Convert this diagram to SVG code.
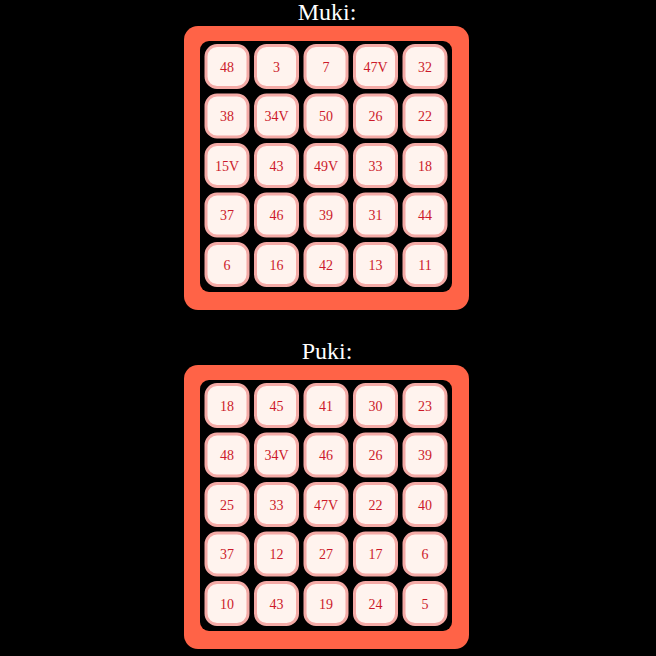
<svg xmlns="http://www.w3.org/2000/svg" width="656" height="656" viewBox="0 0 656 656">
<style>
.bg{fill:#000}
.title{font-family:"Liberation Serif",serif;font-size:24px;fill:#fff;text-anchor:middle}
.outer{fill:#ff6347}
.inner{fill:#000}
.cell text{font-family:"Liberation Serif",serif;font-size:14px;fill:#cc1a2a;text-anchor:middle;dominant-baseline:central}
</style>
<defs>
<rect id="c" x="2" y="1.5" width="42" height="42" rx="11" fill="#fff3ee" stroke="#f4aaa6" stroke-width="3"/>
</defs>
<rect class="bg" x="0" y="0" width="656" height="656"/>
<g id="muki">
<text class="title" x="327" y="20">Muki:</text>
<rect class="outer" x="184" y="26" width="285" height="284" rx="14"/>
<rect class="inner" x="200" y="41" width="252" height="251" rx="9"/>
<g class="cell" transform="translate(204,44)"><use href="#c"/><text x="23" y="23">48</text></g>
<g class="cell" transform="translate(253.5,44)"><use href="#c"/><text x="23" y="23">3</text></g>
<g class="cell" transform="translate(303,44)"><use href="#c"/><text x="23" y="23">7</text></g>
<g class="cell" transform="translate(352.5,44)"><use href="#c"/><text x="23" y="23">47V</text></g>
<g class="cell" transform="translate(402,44)"><use href="#c"/><text x="23" y="23">32</text></g>
<g class="cell" transform="translate(204,93.5)"><use href="#c"/><text x="23" y="23">38</text></g>
<g class="cell" transform="translate(253.5,93.5)"><use href="#c"/><text x="23" y="23">34V</text></g>
<g class="cell" transform="translate(303,93.5)"><use href="#c"/><text x="23" y="23">50</text></g>
<g class="cell" transform="translate(352.5,93.5)"><use href="#c"/><text x="23" y="23">26</text></g>
<g class="cell" transform="translate(402,93.5)"><use href="#c"/><text x="23" y="23">22</text></g>
<g class="cell" transform="translate(204,143)"><use href="#c"/><text x="23" y="23">15V</text></g>
<g class="cell" transform="translate(253.5,143)"><use href="#c"/><text x="23" y="23">43</text></g>
<g class="cell" transform="translate(303,143)"><use href="#c"/><text x="23" y="23">49V</text></g>
<g class="cell" transform="translate(352.5,143)"><use href="#c"/><text x="23" y="23">33</text></g>
<g class="cell" transform="translate(402,143)"><use href="#c"/><text x="23" y="23">18</text></g>
<g class="cell" transform="translate(204,192.5)"><use href="#c"/><text x="23" y="23">37</text></g>
<g class="cell" transform="translate(253.5,192.5)"><use href="#c"/><text x="23" y="23">46</text></g>
<g class="cell" transform="translate(303,192.5)"><use href="#c"/><text x="23" y="23">39</text></g>
<g class="cell" transform="translate(352.5,192.5)"><use href="#c"/><text x="23" y="23">31</text></g>
<g class="cell" transform="translate(402,192.5)"><use href="#c"/><text x="23" y="23">44</text></g>
<g class="cell" transform="translate(204,242)"><use href="#c"/><text x="23" y="23">6</text></g>
<g class="cell" transform="translate(253.5,242)"><use href="#c"/><text x="23" y="23">16</text></g>
<g class="cell" transform="translate(303,242)"><use href="#c"/><text x="23" y="23">42</text></g>
<g class="cell" transform="translate(352.5,242)"><use href="#c"/><text x="23" y="23">13</text></g>
<g class="cell" transform="translate(402,242)"><use href="#c"/><text x="23" y="23">11</text></g>
</g>
<g id="puki">
<text class="title" x="327" y="359">Puki:</text>
<rect class="outer" x="184" y="365" width="285" height="284" rx="14"/>
<rect class="inner" x="200" y="380" width="252" height="251" rx="9"/>
<g class="cell" transform="translate(204,383)"><use href="#c"/><text x="23" y="23">18</text></g>
<g class="cell" transform="translate(253.5,383)"><use href="#c"/><text x="23" y="23">45</text></g>
<g class="cell" transform="translate(303,383)"><use href="#c"/><text x="23" y="23">41</text></g>
<g class="cell" transform="translate(352.5,383)"><use href="#c"/><text x="23" y="23">30</text></g>
<g class="cell" transform="translate(402,383)"><use href="#c"/><text x="23" y="23">23</text></g>
<g class="cell" transform="translate(204,432.5)"><use href="#c"/><text x="23" y="23">48</text></g>
<g class="cell" transform="translate(253.5,432.5)"><use href="#c"/><text x="23" y="23">34V</text></g>
<g class="cell" transform="translate(303,432.5)"><use href="#c"/><text x="23" y="23">46</text></g>
<g class="cell" transform="translate(352.5,432.5)"><use href="#c"/><text x="23" y="23">26</text></g>
<g class="cell" transform="translate(402,432.5)"><use href="#c"/><text x="23" y="23">39</text></g>
<g class="cell" transform="translate(204,482)"><use href="#c"/><text x="23" y="23">25</text></g>
<g class="cell" transform="translate(253.5,482)"><use href="#c"/><text x="23" y="23">33</text></g>
<g class="cell" transform="translate(303,482)"><use href="#c"/><text x="23" y="23">47V</text></g>
<g class="cell" transform="translate(352.5,482)"><use href="#c"/><text x="23" y="23">22</text></g>
<g class="cell" transform="translate(402,482)"><use href="#c"/><text x="23" y="23">40</text></g>
<g class="cell" transform="translate(204,531.5)"><use href="#c"/><text x="23" y="23">37</text></g>
<g class="cell" transform="translate(253.5,531.5)"><use href="#c"/><text x="23" y="23">12</text></g>
<g class="cell" transform="translate(303,531.5)"><use href="#c"/><text x="23" y="23">27</text></g>
<g class="cell" transform="translate(352.5,531.5)"><use href="#c"/><text x="23" y="23">17</text></g>
<g class="cell" transform="translate(402,531.5)"><use href="#c"/><text x="23" y="23">6</text></g>
<g class="cell" transform="translate(204,581)"><use href="#c"/><text x="23" y="23">10</text></g>
<g class="cell" transform="translate(253.5,581)"><use href="#c"/><text x="23" y="23">43</text></g>
<g class="cell" transform="translate(303,581)"><use href="#c"/><text x="23" y="23">19</text></g>
<g class="cell" transform="translate(352.5,581)"><use href="#c"/><text x="23" y="23">24</text></g>
<g class="cell" transform="translate(402,581)"><use href="#c"/><text x="23" y="23">5</text></g>
</g>
</svg>
